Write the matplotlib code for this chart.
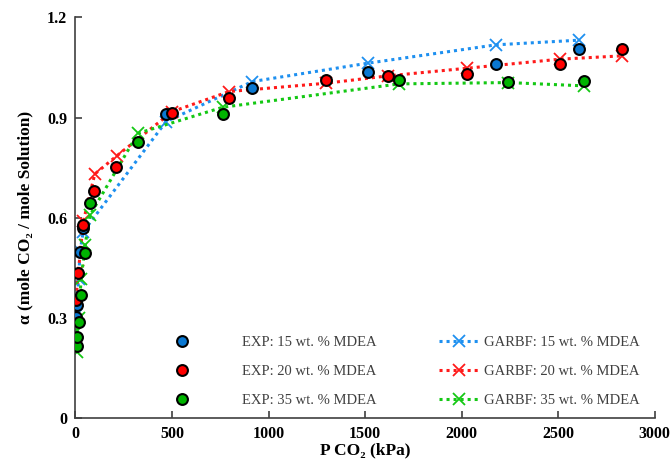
import matplotlib
matplotlib.use("Agg")
import matplotlib.pyplot as plt
from matplotlib.lines import Line2D

plt.rcParams['font.family'] = ['Liberation Serif', 'DejaVu Serif']

# experimental data (P in kPa, alpha)
p_exp_15 = [4, 9, 24, 40, 469, 916, 1514, 2178, 2609]
a_exp_15 = [0.303, 0.339, 0.496, 0.57, 0.911, 0.990, 1.037, 1.060, 1.105]
p_exp_20 = [3, 15, 41, 98, 212, 502, 795, 1298, 1619, 2030, 2508, 2831]
a_exp_20 = [0.353, 0.435, 0.578, 0.681, 0.752, 0.915, 0.958, 1.012, 1.025, 1.030, 1.062, 1.106]
p_exp_35 = [8, 8, 16, 29, 48, 75, 324, 763, 1676, 2243, 2636]
a_exp_35 = [0.217, 0.244, 0.288, 0.368, 0.495, 0.645, 0.828, 0.911, 1.013, 1.007, 1.010]

# GARBF model
p_mod_15 = [4, 9, 16, 24, 40, 469, 916, 1514, 2178, 2609]
a_mod_15 = [0.31, 0.35, 0.417, 0.50, 0.558, 0.888, 1.008, 1.063, 1.118, 1.132]
p_mod_20 = [3, 15, 41, 100, 213, 502, 795, 1298, 1619, 2030, 2508, 2831]
a_mod_20 = [0.36, 0.44, 0.59, 0.731, 0.785, 0.918, 0.978, 1.003, 1.025, 1.048, 1.075, 1.085]
p_mod_35 = [8, 8, 16, 29, 50, 75, 324, 763, 1676, 2243, 2636]
a_mod_35 = [0.199, 0.26, 0.30, 0.415, 0.518, 0.608, 0.853, 0.931, 1.001, 1.005, 0.995]

labels = ["15 wt. % MDEA", "20 wt. % MDEA", "35 wt. % MDEA"]
dot_colors = ["#0A78D2", "#FF0000", "#00B400"]
line_colors = ["#1E90F0", "#FF1A1A", "#14C814"]

fig = plt.figure(figsize=(6.71, 4.62), dpi=100)
ax = fig.add_axes([0.1125, 0.0952, 0.863, 0.867])

dotted = (0, (1, 1.3))
exp_sets = [(p_exp_15, a_exp_15), (p_exp_20, a_exp_20), (p_exp_35, a_exp_35)]
mod_sets = [(p_mod_15, a_mod_15), (p_mod_20, a_mod_20), (p_mod_35, a_mod_35)]

for (p, a), c in zip(mod_sets, line_colors):
    ax.plot(p, a, linestyle=dotted, color=c, lw=2.2, marker='x', ms=8, mew=1.3, zorder=2)
for (p, a), c in zip(exp_sets, dot_colors):
    ax.plot(p, a, linestyle='none', marker='o', ms=7.8, mfc=c, mec='black', mew=1.5, zorder=3)

ax.set_xlim(0, 3000)
ax.set_ylim(0, 1.2)
ax.set_xticks(range(0, 3001, 500))
ax.set_yticks([0, 0.3, 0.6, 0.9, 1.2])
ax.set_yticklabels(["0", "0.3", "0.6", "0.9", "1.2"])
ax.spines['top'].set_visible(False)
ax.spines['right'].set_visible(False)
for s in ['left', 'bottom']:
    ax.spines[s].set_color('#404040')
    ax.spines[s].set_linewidth(1.2)
ax.tick_params(direction='in', length=5, width=1.2, color='#404040', labelsize=11.5, pad=6)
for t in ax.get_xticklabels() + ax.get_yticklabels():
    t.set_fontweight('bold')

ax.set_xlabel("P CO₂ (kPa)", fontsize=12.5, fontweight='bold', labelpad=0)
ax.set_ylabel("α (mole CO₂ / mole Solution)", fontsize=12.5, fontweight='bold', labelpad=10)

exp_handles = [Line2D([], [], linestyle='none', marker='o', ms=7.8, mfc=c, mec='black', mew=1.5)
               for c in dot_colors]
mod_handles = [Line2D([], [], linestyle=dotted, color=c, lw=2.2, marker='x', ms=8, mew=1.3)
               for c in line_colors]

leg1 = ax.legend(exp_handles, ["EXP: " + l for l in labels], loc='upper left',
                 bbox_to_anchor=(0.172, 0.205), frameon=False, fontsize=10.5,
                 handlelength=1.0, handletextpad=3.6, labelspacing=1.08,
                 borderpad=0, borderaxespad=0, labelcolor='#404040')
ax.add_artist(leg1)
ax.legend(mod_handles, ["GARBF: " + l for l in labels], loc='upper left',
          bbox_to_anchor=(0.628, 0.205), frameon=False, fontsize=10.5,
          handlelength=2.7, handletextpad=0.35, labelspacing=1.08,
          borderpad=0, borderaxespad=0, labelcolor='#404040')

fig.savefig("out.png", dpi=100)
